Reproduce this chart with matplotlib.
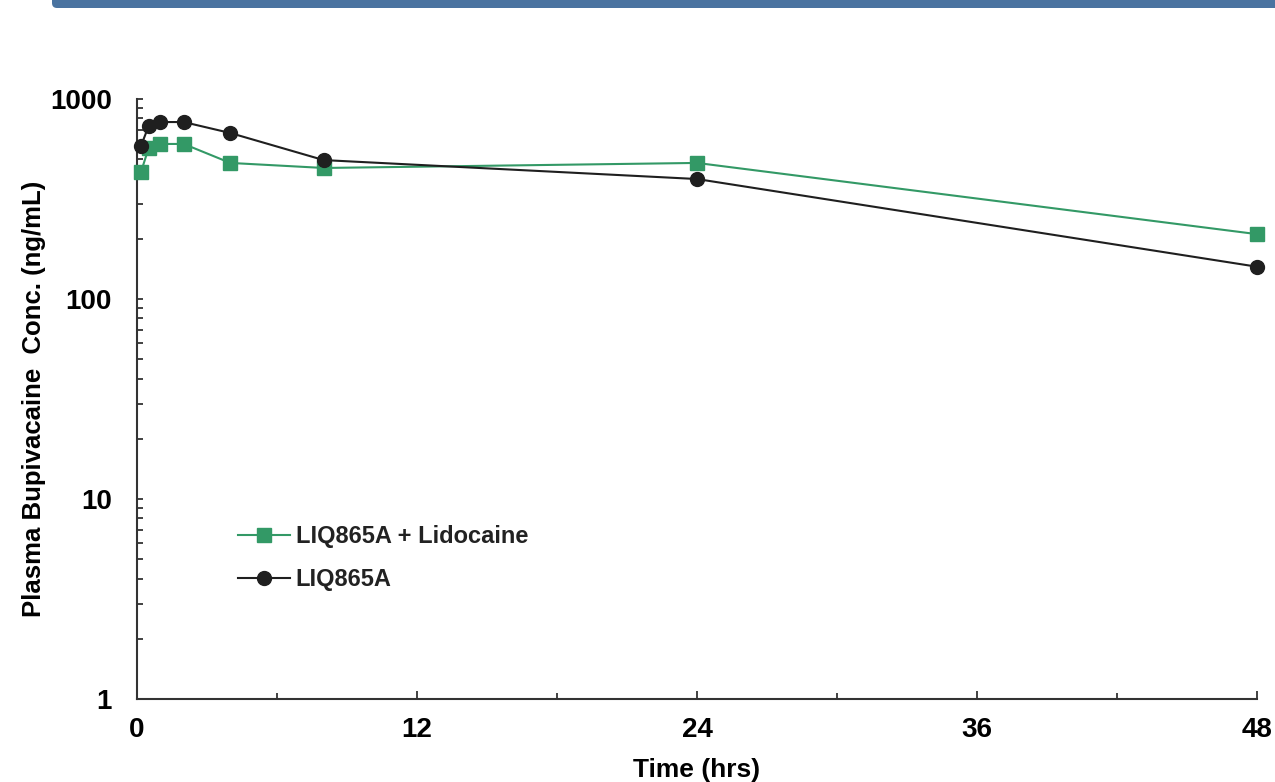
import matplotlib
matplotlib.use("Agg")
import matplotlib.pyplot as plt
from matplotlib.patches import FancyBboxPatch
from matplotlib.transforms import IdentityTransform
from matplotlib.ticker import LogLocator, FixedLocator, NullFormatter

# ======================
# DATA
# ======================
time_lido = [0.17, 0.5, 1, 2, 4, 8, 24, 48]
conc_lido = [431, 569, 596, 596, 479, 452, 479, 211]

time_plain = [0.17, 0.5, 1, 2, 4, 8, 24, 48]
conc_plain = [582, 733, 767, 767, 676, 495, 398, 145]

label_lido  = "LIQ865A + Lidocaine"
label_plain = "LIQ865A"

x_major = [0, 12, 24, 36, 48]
x_minor = [6, 18, 30, 42]
y_major = [1, 10, 100, 1000]
y_labels = ["1", "10", "100", "1000"]

GREEN = "#339966"
BLACK = "#1f1f1f"

plt.rcParams['font.family'] = ['Liberation Sans', 'DejaVu Sans']
plt.rcParams['font.weight'] = 'bold'

fig = plt.figure(figsize=(12.75, 7.82), dpi=100)
ax = fig.add_axes([137/1275, 1 - 699/782, (1257-137)/1275, (699-99)/782])

ax.plot(time_lido, conc_lido, color=GREEN, lw=1.5, marker='s', ms=10,
        label=label_lido, clip_on=False, zorder=3)
ax.plot(time_plain, conc_plain, color=BLACK, lw=1.5, marker='o', ms=10,
        label=label_plain, clip_on=False, zorder=4)

ax.set_yscale('log')
ax.set_ylim(1, 1000)
ax.set_xlim(0, 48)

ax.set_xticks(x_major)
ax.xaxis.set_minor_locator(FixedLocator(x_minor))
ax.set_yticks(y_major)
ax.set_yticklabels(y_labels)
ax.yaxis.set_minor_locator(LogLocator(base=10, subs=range(2, 10)))
ax.yaxis.set_minor_formatter(NullFormatter())

ax.tick_params(axis='both', which='both', direction='in', color='#333333', width=1.3)
ax.tick_params(axis='x', which='major', length=6, pad=13, labelsize=20)
ax.tick_params(axis='x', which='minor', length=4.5)
ax.tick_params(axis='y', which='major', length=4.5, pad=18, labelsize=20)
ax.tick_params(axis='y', which='minor', length=4.5)

for s in ['top', 'right']:
    ax.spines[s].set_visible(False)
for s in ['left', 'bottom']:
    ax.spines[s].set_linewidth(1.5)
    ax.spines[s].set_color('#333333')

ax.set_xlabel("Time (hrs)", fontsize=19, fontweight='bold', labelpad=11)
ax.set_ylabel("Plasma Bupivacaine  Conc. (ng/mL)", fontsize=18.5, fontweight='bold', labelpad=3)

leg = ax.legend(loc='upper left', bbox_to_anchor=(0.071, 0.325), frameon=False,
                fontsize=17, handlelength=2.2, handletextpad=0.25, labelspacing=0.84)
for t in leg.get_texts():
    t.set_color('#222222')

# banner across the top
banner = FancyBboxPatch((52, 774), 1300, 40, boxstyle="round,pad=0,rounding_size=5",
                        transform=IdentityTransform(), facecolor="#4a73a0",
                        edgecolor="none")
fig.add_artist(banner)

fig.savefig("out.png", dpi=100)
